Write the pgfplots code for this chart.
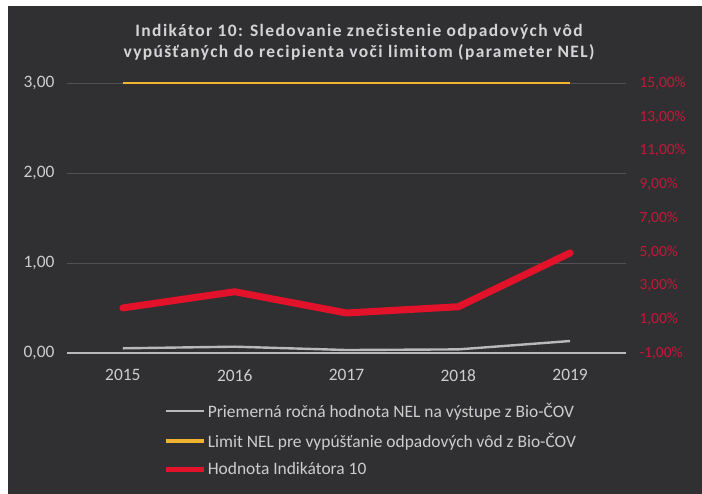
\documentclass[border=0pt]{standalone}
\usepackage{pgfplots}
\pgfplotsset{compat=1.18}
\usepackage{fontspec}
\setmainfont{Carlito}
\newfontfamily\titlefont[LetterSpace=8]{Carlito}
\definecolor{bg}{RGB}{48,48,50}
\definecolor{txt}{RGB}{205,205,205}
\definecolor{ttl}{RGB}{212,212,212}
\definecolor{redl}{RGB}{226,18,42}
\definecolor{redt}{RGB}{200,22,58}
\definecolor{orl}{RGB}{240,180,50}
\definecolor{grl}{RGB}{185,185,188}
\definecolor{gridc}{RGB}{82,82,84}
\begin{document}
\begin{tikzpicture}[x=1bp,y=1bp]
\fill[white] (0,0) rectangle (702,494);
\fill[bg] (8,0) rectangle (702,488);
\node[font=\titlefont\bfseries\fontsize{17.5}{21}\selectfont, text=ttl, align=center] at (359,452) {Indikátor 10: Sledovanie znečistenie odpadových vôd\\vypúšťaných do recipienta voči limitom (parameter NEL)};
\begin{axis}[
  at={(67bp,141bp)}, anchor=south west,
  scale only axis, width=559bp, height=270bp,
  xmin=2014.5, xmax=2019.5, ymin=0, ymax=3,
  xtick={2015,2016,2017,2018,2019},
  xticklabels={2015,2016,2017,2018,2019},
  ytick={0,1,2,3},
  /pgf/number format/assume math mode=true,
  yticklabel style={/pgf/number format/fixed, /pgf/number format/fixed zerofill, /pgf/number format/precision=2, /pgf/number format/use comma, anchor=east, xshift=-9bp},
  tick label style={font=\fontsize{17.5}{20}\selectfont, text=txt},
  xticklabel style={anchor=north, yshift=-13bp},
  ymajorgrids, grid style={gridc, line width=0.8bp},
  axis line style={draw=none}, major tick length=0pt,
  clip=false,
]
\draw[grl, line width=1.6bp] (axis cs:2014.5,0) -- (axis cs:2019.5,0);
\addplot[grl, line width=2.4bp, line join=round] coordinates {(2015,0.052) (2016,0.07) (2017,0.033) (2018,0.04) (2019,0.133)};
\addplot[orl, line width=2.6bp] coordinates {(2015,3) (2016,3) (2017,3) (2018,3) (2019,3)};
\end{axis}
\begin{axis}[
  at={(67bp,141bp)}, anchor=south west,
  scale only axis, width=559bp, height=270bp,
  xmin=2014.5, xmax=2019.5, ymin=-1, ymax=15,
  xtick=\empty,
  ytick={-1,1,3,5,7,9,11,13,15},
  yticklabel pos=right,
  /pgf/number format/assume math mode=true,
  yticklabel={\pgfmathprintnumber[fixed,fixed zerofill,precision=2,use comma]{\tick}\%},
  yticklabel style={font=\fontsize{15.5}{18}\selectfont, text=redt, anchor=west, xshift=10bp},
  axis line style={draw=none}, major tick length=0pt,
  clip=false,
  legend style={at={(0.172,-0.178)}, anchor=north west, draw=none, fill=none, text=txt,
    font=\fontsize{17.5}{20}\selectfont, inner sep=0pt, row sep=10bp, cells={anchor=west}},
  legend image code/.code={\draw[#1] (0bp,0bp) -- (38bp,0bp);},
]
\addlegendimage{grl, line width=2.4bp}
\addlegendentry{Priemerná ročná hodnota NEL na výstupe z Bio-ČOV}
\addlegendimage{orl, line width=3.5bp}
\addlegendentry{Limit NEL pre vypúšťanie odpadových vôd z Bio-ČOV}
\addlegendimage{redl, line width=4.5bp}
\addlegendentry{Hodnota Indikátora 10}
\addplot[redl, line width=7bp, line join=round, line cap=round, forget plot] coordinates {(2015,1.67) (2016,2.63) (2017,1.37) (2018,1.74) (2019,4.93)};
\end{axis}
\end{tikzpicture}
\end{document}
